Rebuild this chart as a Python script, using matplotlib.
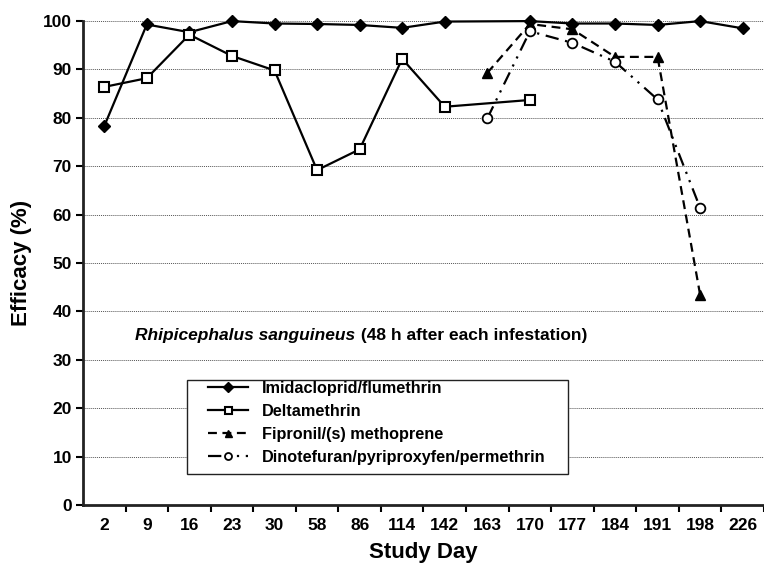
import matplotlib

matplotlib.use("Agg")
import matplotlib.pyplot as plt
from matplotlib.patches import Rectangle
import numpy as np

plt.rcParams["font.family"] = ["Liberation Sans", "DejaVu Sans"]
plt.rcParams["font.weight"] = "bold"

# Study days (categorical x axis)
DAYS = ["2", "9", "16", "23", "30", "58", "86", "114", "142",
        "163", "170", "177", "184", "191", "198", "226"]

# Efficacy (%) per product; None = not measured on that day
IMIDACLOPRID = [78.3, 99.3, 97.7, 100.0, 99.5, 99.4, 99.2, 98.6, 99.9,
                None, 100.0, 99.5, 99.5, 99.2, 100.0, 98.5]
DELTAMETHRIN = [86.4, 88.2, 97.2, 92.8, 89.8, 69.2, 73.5, 92.2, 82.3,
                None, 83.7, None, None, None, None, None]
FIPRONIL = [None, None, None, None, None, None, None, None, None,
            89.3, 99.4, 98.3, 92.6, 92.6, 43.4, None]
DINOTEFURAN = [None, None, None, None, None, None, None, None, None,
               79.9, 97.9, 95.5, 91.6, 83.8, 61.4, None]

LABELS = ["Imidacloprid/flumethrin", "Deltamethrin",
          "Fipronil/(s) methoprene", "Dinotefuran/pyriproxyfen/permethrin"]


def _xy(values):
    pts = [(i, v) for i, v in enumerate(values) if v is not None]
    return [p[0] for p in pts], [p[1] for p in pts]


fig = plt.figure(figsize=(7.64, 5.7), dpi=100)
ax = fig.add_axes([0.1086, 0.114, 0.8914, 0.849])

styles = [
    dict(linestyle="-", marker="D", markersize=6.5, markerfacecolor="black"),
    dict(linestyle="-", marker="s", markersize=7, markerfacecolor="white",
         markeredgewidth=1.5),
    dict(linestyle=(0, (4, 2.5)), marker="^", markersize=7, markerfacecolor="black"),
    dict(linestyle=(0, (6, 3, 1, 3, 1, 3)), marker="o", markersize=7,
         markerfacecolor="white", markeredgewidth=1.3),
]
series = [IMIDACLOPRID, DELTAMETHRIN, FIPRONIL, DINOTEFURAN]
for vals, lab, st in zip(series, LABELS, styles):
    xs, ys = _xy(vals)
    ax.plot(xs, ys, color="black", linewidth=1.6, markeredgecolor="black",
            label=lab, clip_on=False, zorder=3, **st)

ax.set_xlim(-0.5, len(DAYS) - 0.5)
ax.set_ylim(0, 100)
ax.set_xticks(np.arange(len(DAYS)))
ax.set_xticklabels(DAYS)
ax.set_xticks(np.arange(len(DAYS)) + 0.5, minor=True)
ax.set_yticks(np.arange(0, 101, 10))
ax.tick_params(axis="x", which="major", length=0, pad=9, labelsize=12.5)
ax.tick_params(axis="x", which="minor", length=5, width=1.5, direction="out")
ax.tick_params(axis="y", length=5, width=1.5, direction="out", labelsize=12.5, pad=3)

for spine in ("top", "right"):
    ax.spines[spine].set_visible(False)
for spine in ("left", "bottom"):
    ax.spines[spine].set_linewidth(2)
    ax.spines[spine].set_color("#222222")

ax.grid(axis="y", color="#555555", linestyle=(0, (1, 1)), linewidth=0.7)
ax.set_axisbelow(True)

ax.set_xlabel("Study Day", fontsize=16, fontweight="bold", labelpad=7)
ax.set_ylabel("Efficacy (%)", fontsize=16, fontweight="bold", labelpad=8)

t1 = ax.text(0.077, 0.351, "Rhipicephalus sanguineus", transform=ax.transAxes,
             fontsize=12.5, fontweight="bold", fontstyle="italic", va="center")
ax.annotate(" (48 h after each infestation)", xy=(1, 0.5), xycoords=t1,
            fontsize=12.5, fontweight="bold", va="center", ha="left")

# legend box drawn separately so the inner padding matches the original
ax.add_patch(Rectangle((0.1527, 0.064), 0.5595, 0.194, transform=ax.transAxes,
                       facecolor="white", edgecolor="#222222", linewidth=1.0,
                       zorder=4))
leg = ax.legend(loc="upper left", bbox_to_anchor=(0.183, 0.256), frameon=False,
                handlelength=2.5, handletextpad=0.85, borderpad=0,
                borderaxespad=0, labelspacing=0.48, markerscale=0.72,
                prop={"weight": "bold", "size": 11.7})
leg.set_zorder(5)

fig.savefig("out.png", dpi=100)
